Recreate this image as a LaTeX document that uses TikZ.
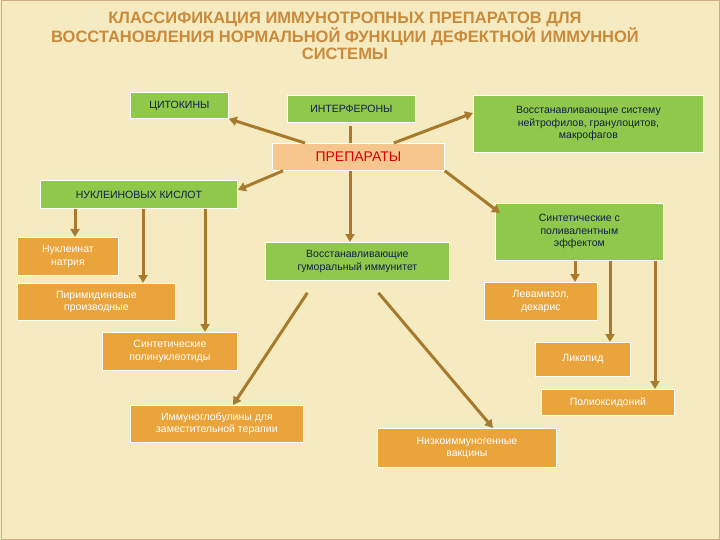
\documentclass[tikz,border=0pt]{standalone}
\usepackage{fontspec}
\setmainfont{Liberation Sans}
\usetikzlibrary{arrows.meta,calc}
\definecolor{bg}{HTML}{F6EBC0}
\definecolor{gr}{HTML}{8FC84A}
\definecolor{org}{HTML}{E9A43C}
\definecolor{peach}{HTML}{F7C58E}
\definecolor{brn}{HTML}{A87A2E}
\definecolor{ttl}{HTML}{C98A3C}
\definecolor{navy}{HTML}{10204A}
\tikzset{
 box/.style={anchor=north west,inner sep=0pt,align=center,font=\fontsize{10.5}{12.5}\selectfont,draw=white,line width=0.8pt},
 gbox/.style={box,fill=gr,text=navy},
 obox/.style={box,fill=org,text=white},
 conn/.style={draw=brn,line width=3pt,-{Triangle[length=8pt,width=9pt]}},
 plain/.style={draw=brn,line width=3pt}
}
\begin{document}
\begin{tikzpicture}[x=1pt,y=-1pt]
\fill[bg] (0,0) rectangle (720,540);
\draw[brn!60,line width=1pt] (1,1) rectangle (719,539);
\node[font=\bfseries\fontsize{16.5}{17}\selectfont,text=ttl,align=center,anchor=north] (title) at (345,8)
 {КЛАССИФИКАЦИЯ ИММУНОТРОПНЫХ ПРЕПАРАТОВ ДЛЯ\\ВОССТАНОВЛЕНИЯ НОРМАЛЬНОЙ ФУНКЦИИ ДЕФЕКТНОЙ ИММУННОЙ\\СИСТЕМЫ};
\node[gbox,minimum width=98,minimum height=26] (cyt) at (130,92) {ЦИТОКИНЫ};
\node[gbox,minimum width=128,minimum height=27] (ifn) at (287,95) {ИНТЕРФЕРОНЫ};
\node[gbox,minimum width=230,minimum height=57] (neu) at (473,95) {Восстанавливающие систему\\нейтрофилов, гранулоцитов,\\макрофагов};
\node[box,fill=peach,text=red!85!black,font=\fontsize{14}{14}\selectfont,minimum width=172,minimum height=27] (prep) at (272,143) {ПРЕПАРАТЫ};
\node[gbox,minimum width=197,minimum height=28] (nuk) at (40,180) {НУКЛЕИНОВЫХ КИСЛОТ};
\node[obox,minimum width=101,minimum height=38] (na) at (17,237) {Нуклеинат\\натрия};
\node[obox,minimum width=158,minimum height=37] (pir) at (17,283) {Пиримидиновые\\производные};
\node[obox,minimum width=135,minimum height=38] (pol) at (102,332) {Синтетические\\полинуклеотиды};
\node[gbox,minimum width=184,minimum height=38] (hum) at (265,242) {Восстанавливающие\\гуморальный иммунитет};
\node[gbox,minimum width=168,minimum height=57] (syn) at (495,203) {Синтетические с\\поливалентным\\эффектом};
\node[obox,minimum width=113,minimum height=38] (lev) at (484,282) {Левамизол,\\декарис};
\node[obox,minimum width=95,minimum height=34] (lik) at (535,342) {Ликопид};
\node[obox,minimum width=133,minimum height=26] (plx) at (541,389) {Полиоксидоний};
\node[obox,minimum width=173,minimum height=37] (ig) at (130,405) {Иммуноглобулины для\\заместительной терапии};
\node[obox,minimum width=179,minimum height=39] (vac) at (377,428) {Низкоиммуногенные\\вакцины};
\draw[conn] ($(prep.north west)+(33,0)$) -- (cyt.south east);
\draw[plain] (prep.north -| 350,0) -- ($(ifn.south -| 350,0)+(0,3)$);
\draw[conn] ($(prep.north east)+(-51,0)$) -- ($(neu.north west)+(0,18)$);
\draw[conn] ($(prep.south west)+(11,0)$) -- ($(nuk.north east)+(0,10)$);
\draw[conn] (prep.south -| 350,0) -- (hum.north -| 350,0);
\draw[conn] (prep.south east) -- ($(syn.north west)+(5,10)$);
\draw[conn] (nuk.south -| 75,0) -- (na.north -| 75,0);
\draw[conn] (nuk.south -| 143,0) -- (pir.north -| 143,0);
\draw[conn] (nuk.south -| 205,0) -- (pol.north -| 205,0);
\draw[conn] ($(hum.south)+(-50,12)$) -- (ig.north -| 233,0);
\draw[conn] ($(hum.south)+(21,12)$) -- (vac.north -| 493,0);
\draw[conn] (syn.south -| 575,0) -- (lev.north -| 575,0);
\draw[conn] (syn.south -| 610,0) -- (lik.north -| 610,0);
\draw[conn] (syn.south -| 655,0) -- (plx.north -| 655,0);
\end{tikzpicture}
\end{document}
